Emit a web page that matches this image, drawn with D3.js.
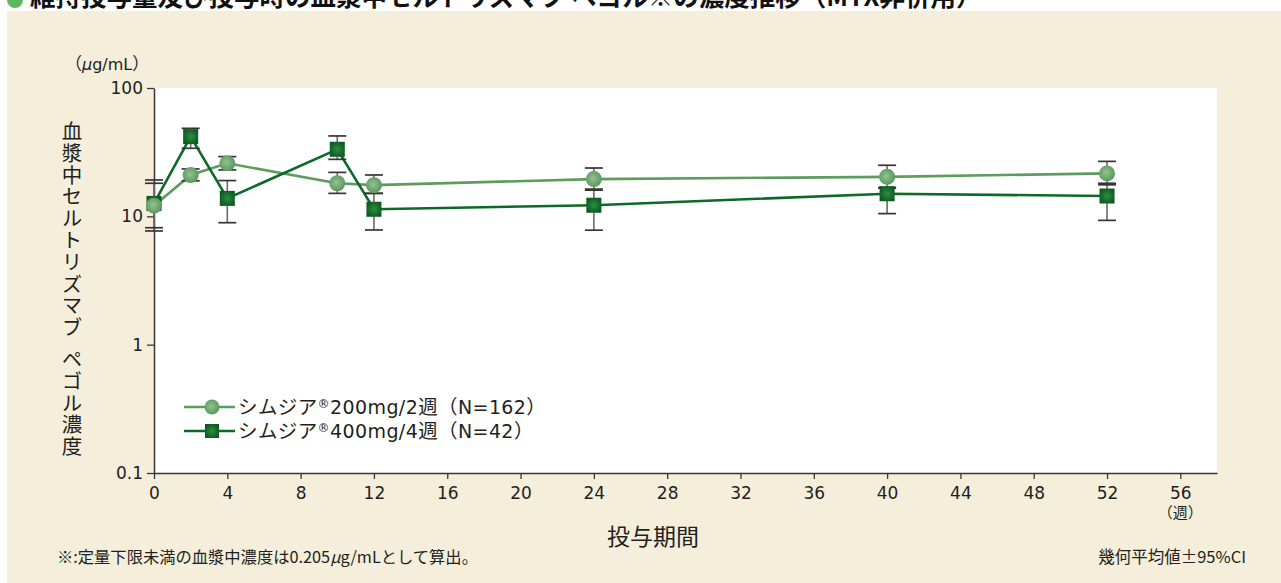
<!DOCTYPE html>
<html>
<head>
<meta charset="utf-8">
<script src="https://cdn.jsdelivr.net/npm/d3@7"></script>
<style>
  body { margin: 0; background: #ffffff; }
  svg { display: block; }
</style>
</head>
<body>
<svg id="chart" width="1281" height="583"></svg>
<script>
// Sampling weeks and geometric means with 95% CI (µg/mL)
const weeks200 = [0, 2, 4, 10, 12, 24, 40, 52];
const mean200  = [12.1, 21.0, 25.9, 18.1, 17.5, 19.5, 20.3, 21.6];
const lower200 = [8.15, 18.9, 23.0, 15.1, 15.1, 16.3, 16.8, 18.1];
const upper200 = [18.1, 23.4, 29.2, 22.0, 21.0, 23.8, 25.0, 26.8];

const weeks400 = [0, 2, 4, 10, 12, 24, 40, 52];
const mean400  = [12.6, 41.8, 13.8, 33.3, 11.35, 12.2, 15.0, 14.4];
const lower400 = [7.69, 33.9, 8.92, 27.8, 7.83, 7.8, 10.5, 9.3];
const upper400 = [19.2, 48.5, 19.0, 42.3, 15.1, 16.0, 16.6, 17.6];

const xTicks = [0, 4, 8, 12, 16, 20, 24, 28, 32, 36, 40, 44, 48, 52, 56];
const yTicks = [0.1, 1, 10, 100];
const yTickLabels = ["0.1", "1", "10", "100"];

const brand = "シムジア";
const seriesDose = ["200mg/2", "400mg/4"];
const seriesN = ["N=162", "N=42"];
const titleText = "維持投与量及び投与時の血漿中セルトリズマブ ペゴル※の濃度推移（MTX非併用）";
const yAxisTitle = "血漿中セルトリズマブ ペゴル濃度";
const xAxisTitle = "投与期間";
const weekUnit = "（週）";
const footNote = ["※:定量下限未満の血漿中濃度は0.205", "µ", "g/mLとして算出。"];
const statNote = "幾何平均値±95%CI";

const jp = "'Noto Sans CJK JP', 'Noto Sans', sans-serif";
const num = "'DejaVu Sans', 'Liberation Sans', sans-serif";
const ink = "#231f20";

const svg = d3.select("#chart");

// gradients for the spherical markers
const defs = svg.append("defs");
const gC = defs.append("radialGradient").attr("id", "gCircle").attr("cx", "45%").attr("cy", "45%").attr("r", "60%");
gC.append("stop").attr("offset", "0%").attr("stop-color", "#93c290");
gC.append("stop").attr("offset", "100%").attr("stop-color", "#57935a");
const gS = defs.append("radialGradient").attr("id", "gSquare").attr("cx", "50%").attr("cy", "50%").attr("r", "60%");
gS.append("stop").attr("offset", "0%").attr("stop-color", "#2f8c44");
gS.append("stop").attr("offset", "100%").attr("stop-color", "#08561c");

// panel background
svg.append("rect").attr("x", 7).attr("y", 11).attr("width", 1274).attr("height", 572).attr("fill", "#f4eedb");

// title strip (runs off the top edge)
svg.append("circle").attr("cx", 15).attr("cy", 0).attr("r", 8).attr("fill", "#5cb85c");
svg.append("text").attr("x", 30).attr("y", 6).attr("font-family", jp).attr("font-weight", 700)
  .attr("font-size", 25.5).attr("fill", "#111").text(titleText);

const x = d3.scaleLinear().domain([0, 58]).range([154, 1217]);
const y = d3.scaleLog().domain([0.1, 100]).range([473, 88]);

// plot area
svg.append("rect").attr("x", x(0)).attr("y", y(100)).attr("width", x(58) - x(0)).attr("height", y(0.1) - y(100)).attr("fill", "#ffffff");

const axisColor = "#3b3535";

const xAxis = svg.append("g").attr("transform", `translate(0,${y(0.1)})`)
  .call(d3.axisBottom(x).tickValues(xTicks).tickSize(6).tickSizeOuter(0).tickPadding(8).tickFormat(d3.format("d")));
const yAxis = svg.append("g").attr("transform", `translate(${x(0)},0)`)
  .call(d3.axisLeft(y).tickValues(yTicks).tickSize(7).tickSizeOuter(0).tickPadding(4)
    .tickFormat((d, i) => yTickLabels[i]));
[xAxis, yAxis].forEach(g => {
  g.select(".domain").attr("stroke", axisColor).attr("stroke-width", 1.5);
  g.selectAll(".tick line").attr("stroke", axisColor).attr("stroke-width", 1.3);
  g.selectAll(".tick text").attr("font-family", num).attr("font-size", 17).attr("fill", ink);
});

// unit above the y axis
const unit = svg.append("text").attr("x", 65).attr("y", 70).attr("font-family", jp).attr("font-size", 17).attr("fill", ink);
unit.append("tspan").text("（");
unit.append("tspan").attr("font-style", "italic").attr("font-family", num).attr("font-size", 16).text("μ");
unit.append("tspan").attr("font-family", num).attr("font-size", 16).text("g/mL");
unit.append("tspan").text("）");

// vertical y-axis title; the word break gets a narrow gap
const yParts = yAxisTitle.split(" ");
const yt = svg.append("text")
  .attr("x", 72).attr("y", 121)
  .style("writing-mode", "vertical-rl").style("text-orientation", "upright")
  .attr("letter-spacing", 1.3)
  .attr("font-family", jp).attr("font-size", 20.5).attr("fill", ink);
yParts.forEach((p, i) => {
  const ts = yt.append("tspan").text(p);
  if (i > 0) ts.attr("dy", 10);
});

svg.append("text").attr("x", 653).attr("y", 545).attr("text-anchor", "middle").attr("font-family", jp)
  .attr("font-size", 23).attr("fill", ink).text(xAxisTitle);
svg.append("text").attr("x", x(56)).attr("y", 518).attr("text-anchor", "middle").attr("font-family", jp)
  .attr("font-size", 15).attr("fill", ink).text(weekUnit);

// notes
const fn = svg.append("text").attr("x", 57).attr("y", 563).attr("font-family", jp).attr("font-size", 16.3).attr("fill", ink);
fn.append("tspan").text(footNote[0]);
fn.append("tspan").attr("font-style", "italic").text(footNote[1]);
fn.append("tspan").text(footNote[2]);
svg.append("text").attr("x", 1246).attr("y", 563).attr("text-anchor", "end").attr("font-family", jp).attr("font-size", 16.5).attr("fill", ink).text(statNote);

// series
const s200 = weeks200.map((w, i) => ({ w, m: mean200[i], lo: lower200[i], hi: upper200[i] }));
const s400 = weeks400.map((w, i) => ({ w, m: mean400[i], lo: lower400[i], hi: upper400[i] }));

const line = d3.line().x(d => x(d.w)).y(d => y(d.m));
const c200 = "#5e9c5d", c400 = "#0b6a27";

svg.append("path").datum(s200).attr("d", line).attr("fill", "none").attr("stroke", c200).attr("stroke-width", 2.6);
svg.append("path").datum(s400).attr("d", line).attr("fill", "none").attr("stroke", c400).attr("stroke-width", 2.6);

function errorBars(data) {
  const g = svg.append("g");
  g.selectAll("line.v").data(data).join("line")
    .attr("x1", d => x(d.w)).attr("x2", d => x(d.w)).attr("y1", d => y(d.hi)).attr("y2", d => y(d.lo))
    .attr("stroke", "#6f6868").attr("stroke-width", 1.6);
  ["hi", "lo"].forEach(k => {
    g.selectAll("line." + k).data(data).join("line")
      .attr("x1", d => x(d.w) - 9).attr("x2", d => x(d.w) + 9).attr("y1", d => y(d[k])).attr("y2", d => y(d[k]))
      .attr("stroke", "#3a3333").attr("stroke-width", 1.7);
  });
}
errorBars(s400);
errorBars(s200);

svg.append("g").selectAll("rect").data(s400).join("rect")
  .attr("x", d => x(d.w) - 7.5).attr("y", d => y(d.m) - 7.5).attr("width", 15).attr("height", 15)
  .attr("fill", "url(#gSquare)");
svg.append("g").selectAll("circle").data(s200).join("circle")
  .attr("cx", d => x(d.w)).attr("cy", d => y(d.m)).attr("r", 8)
  .attr("fill", "url(#gCircle)");

// legend
const legend = [
  { dose: seriesDose[0], n: seriesN[0], color: c200, shape: "circle", ly: 407 },
  { dose: seriesDose[1], n: seriesN[1], color: c400, shape: "square", ly: 431 }
];
legend.forEach(l => {
  svg.append("line").attr("x1", 184).attr("x2", 235).attr("y1", l.ly).attr("y2", l.ly).attr("stroke", l.color).attr("stroke-width", 2.4);
  if (l.shape === "circle") {
    svg.append("circle").attr("cx", 212).attr("cy", l.ly).attr("r", 7.5).attr("fill", "url(#gCircle)");
  } else {
    svg.append("rect").attr("x", 205).attr("y", l.ly - 7).attr("width", 14).attr("height", 14).attr("fill", "url(#gSquare)");
  }
  const t = svg.append("text").attr("x", 238).attr("y", l.ly + 7).attr("font-family", jp).attr("font-size", 19.5)
    .attr("letter-spacing", 0.4).attr("fill", ink);
  t.append("tspan").text(brand);
  t.append("tspan").attr("font-family", num).attr("font-size", 12).attr("dy", -6).text("®");
  t.append("tspan").attr("dy", 6).attr("font-family", num).attr("font-size", 19).text(l.dose);
  t.append("tspan").text("週（");
  t.append("tspan").attr("font-family", num).attr("font-size", 19).text(l.n);
  t.append("tspan").text("）");
});
</script>
</body>
</html>
